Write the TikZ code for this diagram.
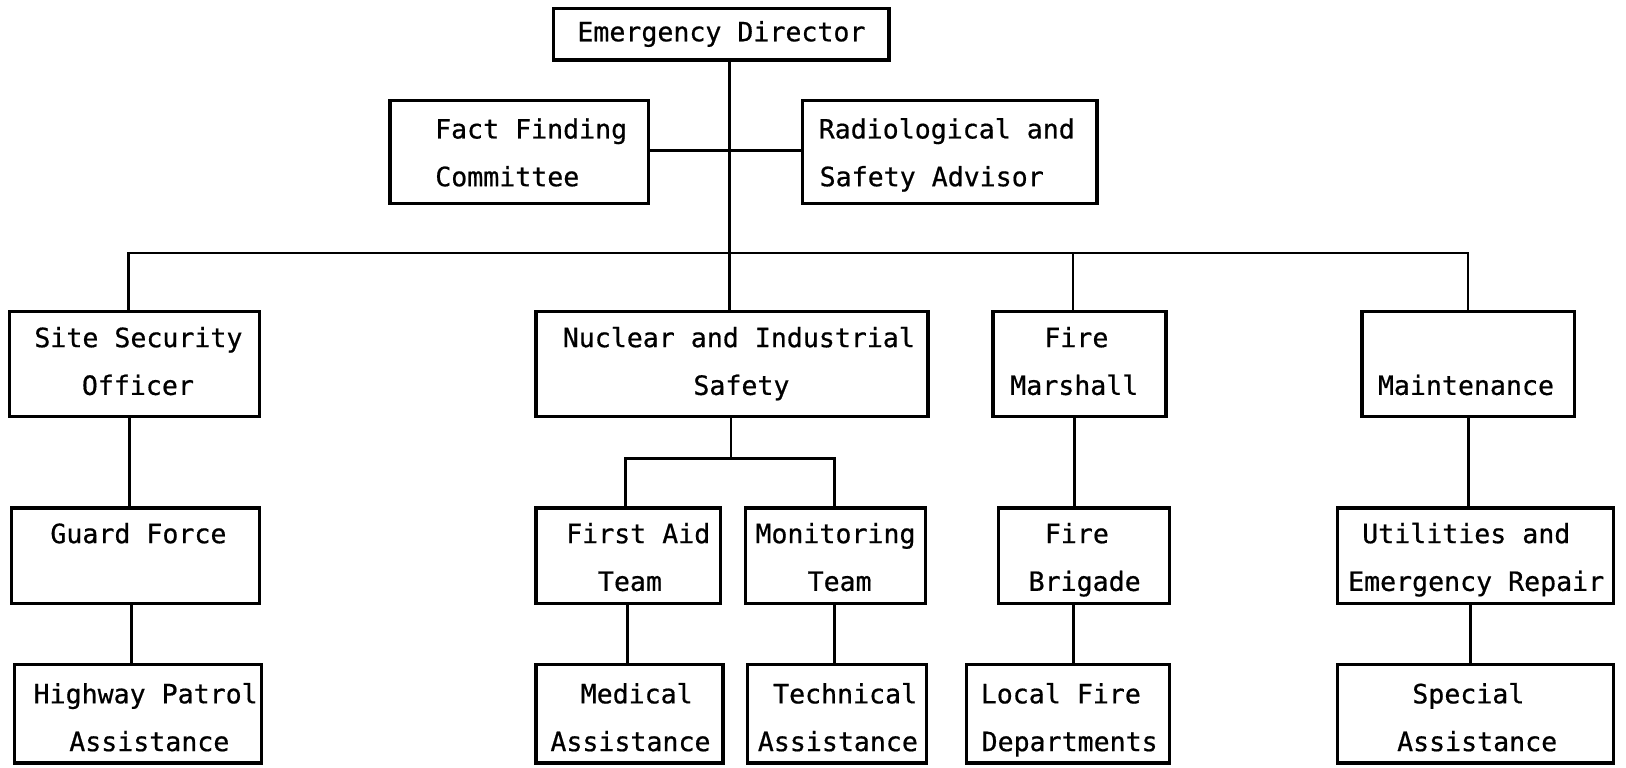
\documentclass[tikz,border=0pt]{standalone}
\usepackage{fontspec}
\newfontfamily\monof[FakeBold=0.6]{DejaVu Sans Mono}
\newdimen\upx \upx=0.01cm
% two-line text: dx1, dx2 (px), dy (px, down), line1, line2
\newcommand\tl[5]{%
 \makebox[0pt]{\hspace*{2\dimexpr#1\upx\relax}\raisebox{\dimexpr0.137cm-#3\upx\relax}[0pt][0pt]{#4}}%
 \makebox[0pt]{\hspace*{2\dimexpr#2\upx\relax}\raisebox{\dimexpr-0.323cm-#3\upx\relax}[0pt][0pt]{#5}}}
% one-line text: dx, dy, text
\newcommand\ol[3]{\makebox[0pt]{\hspace*{2\dimexpr#1\upx\relax}\raisebox{\dimexpr-0.093cm-#2\upx\relax}[0pt][0pt]{#3}}}
\tikzset{
  bx/.style 2 args={draw, line width=0.95pt, inner sep=0pt,
     minimum width=#1*0.01cm, minimum height=#2*0.01cm},
  ln/.style={line width=0.75pt}
}
\begin{document}
\begin{tikzpicture}[x=0.01cm, y=-0.01cm, font=\monof\fontsize{7.29pt}{9pt}\selectfont]
\useasboundingbox (0,0) rectangle (1568,740);
\fill[white] (0,0) rectangle (1568,740);
% top
\node[bx={323.5}{49.5}] (ed) at (695.7,33) {\ol{0}{-2.5}{Emergency Director}};
\node[bx={249.5}{99.5}] (ff) at (500.7,146.5) {\tl{11.5}{-11.5}{0.75}{Fact Finding}{Committee}};
\node[bx={284}{99.5}] (ra) at (916,146.5) {\tl{-3}{-17.5}{0.75}{Radiological and}{Safety Advisor}};
% level 1
\node[bx={241}{101}] (sso) at (129.5,351) {\tl{4}{3.5}{-2.5}{Site Security}{Officer}};
\node[bx={378}{101}] (nis) at (706,351) {\tl{6.5}{9}{-2.5}{Nuclear and Industrial}{Safety}};
\node[bx={166.5}{101}] (fm) at (1041,351) {\tl{-3}{-5}{-2.5}{Fire}{Marshall}};
\node[bx={205}{101}] (mt) at (1415.7,351) {\tl{0}{-2}{-2.5}{}{Maintenance}};
% level 2
\node[bx={239}{92}] (gf) at (130.5,536) {\tl{3}{0}{1.5}{Guard Force}{}};
\node[bx={178}{92}] (fa) at (606,536) {\tl{9.5}{1.5}{1.5}{First Aid}{Team}};
\node[bx={174}{92}] (mo) at (805.7,536) {\tl{0}{4}{1.5}{Monitoring}{Team}};
\node[bx={165}{92}] (fb) at (1045.5,536) {\tl{-7}{0.5}{1.5}{Fire}{Brigade}};
\node[bx={266}{92}] (ut) at (1423,536) {\tl{-9}{0.5}{1.5}{Utilities and}{Emergency Repair}};
% level 3
\node[bx={238}{95}] (hp) at (133,688.5) {\tl{7.5}{11}{3.5}{Highway Patrol}{Assistance}};
\node[bx={180}{95}] (ma) at (607,688.5) {\tl{7}{1}{3.5}{Medical}{Assistance}};
\node[bx={172.6}{95}] (ta) at (807,688.5) {\tl{8}{1}{3.5}{Technical}{Assistance}};
\node[bx={196}{95}] (lf) at (1030,688.5) {\tl{-7}{1.5}{3.5}{Local Fire}{Departments}};
\node[bx={266}{95}] (sa) at (1423,688.5) {\tl{-7}{1.5}{3.5}{Special}{Assistance}};
% coordinates
\coordinate (tx) at (703.6,244);
\coordinate (fr) at (703.6,145.3);
\coordinate (b1) at (123.6,244);
\coordinate (b3) at (1034.7,244);
\coordinate (b4) at (1415.6,244);
\coordinate (csg) at (125,0);
\coordinate (cgh) at (127,0);
\coordinate (n0) at (705,442);
\coordinate (nl) at (603,442);
\coordinate (nr) at (804.5,442);
\coordinate (cfm) at (605,0);
\coordinate (cmt) at (804.5,0);
\coordinate (cff) at (1036.3,0);
\coordinate (cfl) at (1035.5,0);
\coordinate (cmu) at (1416,0);
\coordinate (cus) at (1418,0);
% connectors
\draw[ln] (ed.south -| tx) -- (nis.north -| tx);
\draw[ln] (ff.east |- fr) -- (ra.west |- fr);
\draw[ln] (sso.north -| b1) -- (b1) -- (b4) -- (mt.north -| b4);
\draw[ln] (fm.north -| b3) -- (b3);
\draw[ln] (sso.south -| csg) -- (gf.north -| csg);
\draw[ln] (gf.south -| cgh) -- (hp.north -| cgh);
\draw[ln] (nis.south -| n0) -- (n0);
\draw[ln] (fa.north -| nl) -- (nl) -- (nr) -- (mo.north -| nr);
\draw[ln] (fa.south -| cfm) -- (ma.north -| cfm);
\draw[ln] (mo.south -| cmt) -- (ta.north -| cmt);
\draw[ln] (fm.south -| cff) -- (fb.north -| cff);
\draw[ln] (fb.south -| cfl) -- (lf.north -| cfl);
\draw[ln] (mt.south -| cmu) -- (ut.north -| cmu);
\draw[ln] (ut.south -| cus) -- (sa.north -| cus);
\end{tikzpicture}
\end{document}
